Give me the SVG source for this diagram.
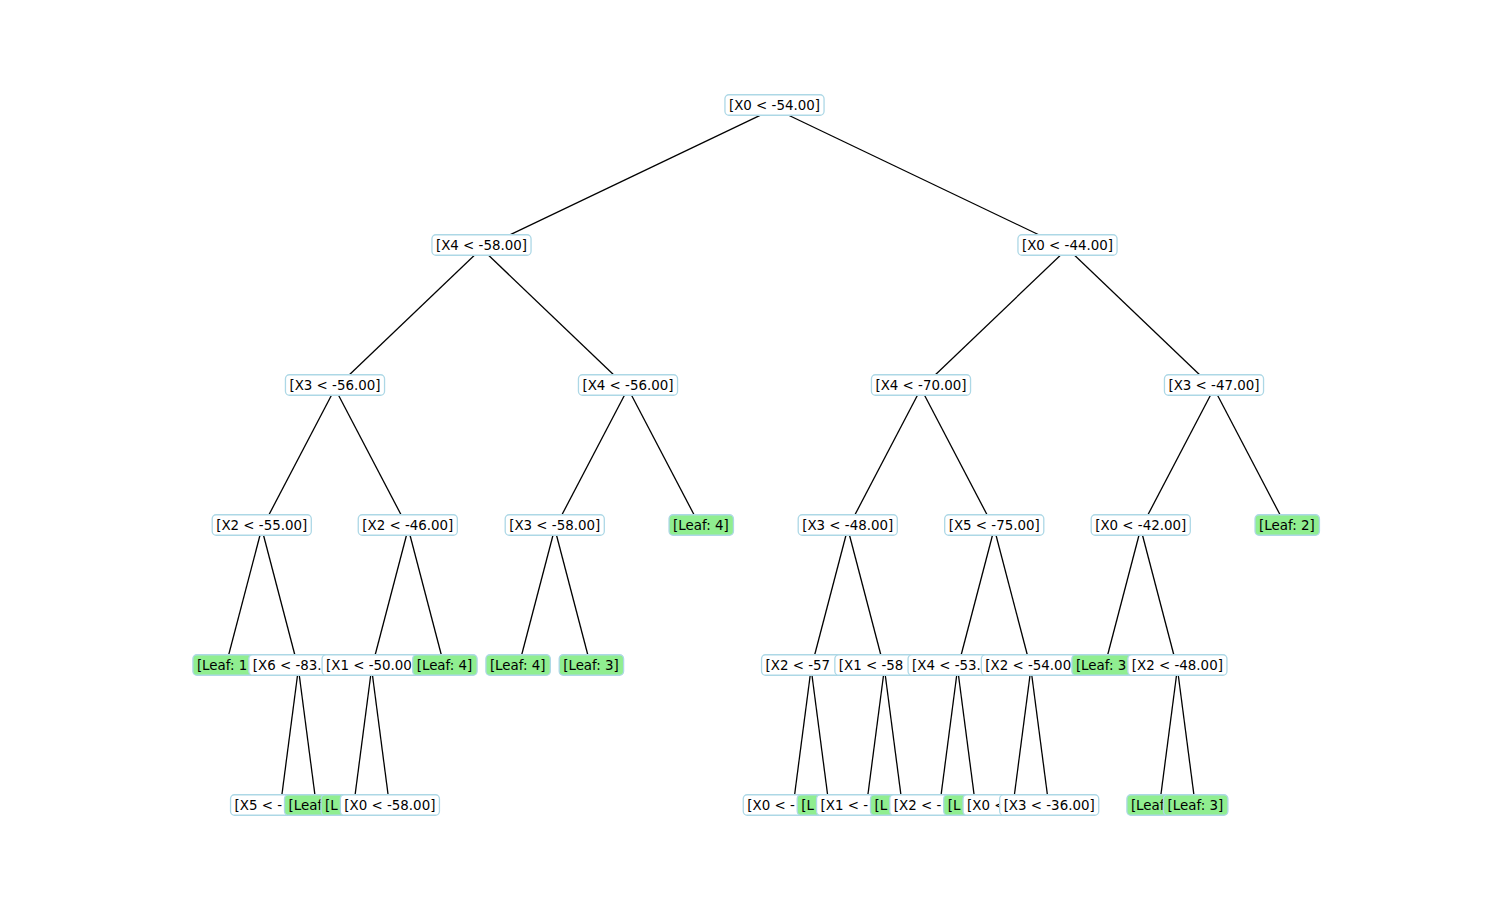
<svg xmlns="http://www.w3.org/2000/svg" width="1512" height="909" viewBox="0 0 1512 909">
<style>
  .edge { stroke: #000; stroke-width: 1.3; fill: none; }
  .box { stroke: #add8e6; stroke-width: 1.3; }
  .split .box { fill: #ffffff; }
  .leaf .box { fill: #90ee90; }
  text { font-family: "DejaVu Sans", "Liberation Sans", sans-serif; font-size: 13.4px; fill: #000; }
</style>
<rect width="1512" height="909" fill="#ffffff"/>

<!-- connectors: parent anchor to child anchor (anchors sit 3.5px below box centres) -->
<g id="edges">
  <line class="edge" x1="774.5" y1="108.5" x2="481.5" y2="248.5"/>
  <line class="edge" x1="774.5" y1="108.5" x2="1067.5" y2="248.5"/>
  <line class="edge" x1="481.5" y1="248.5" x2="335" y2="388.5"/>
  <line class="edge" x1="481.5" y1="248.5" x2="628" y2="388.5"/>
  <line class="edge" x1="1067.5" y1="248.5" x2="921" y2="388.5"/>
  <line class="edge" x1="1067.5" y1="248.5" x2="1214" y2="388.5"/>
  <line class="edge" x1="335" y1="388.5" x2="261.75" y2="528.5"/>
  <line class="edge" x1="335" y1="388.5" x2="408.25" y2="528.5"/>
  <line class="edge" x1="628" y1="388.5" x2="554.75" y2="528.5"/>
  <line class="edge" x1="628" y1="388.5" x2="701.25" y2="528.5"/>
  <line class="edge" x1="921" y1="388.5" x2="847.75" y2="528.5"/>
  <line class="edge" x1="921" y1="388.5" x2="994.25" y2="528.5"/>
  <line class="edge" x1="1214" y1="388.5" x2="1140.75" y2="528.5"/>
  <line class="edge" x1="1214" y1="388.5" x2="1287.25" y2="528.5"/>
  <line class="edge" x1="261.75" y1="528.5" x2="225.1" y2="668.5"/>
  <line class="edge" x1="261.75" y1="528.5" x2="298.4" y2="668.5"/>
  <line class="edge" x1="408.25" y1="528.5" x2="371.6" y2="668.5"/>
  <line class="edge" x1="408.25" y1="528.5" x2="444.9" y2="668.5"/>
  <line class="edge" x1="554.75" y1="528.5" x2="518.1" y2="668.5"/>
  <line class="edge" x1="554.75" y1="528.5" x2="591.4" y2="668.5"/>
  <line class="edge" x1="847.75" y1="528.5" x2="811.1" y2="668.5"/>
  <line class="edge" x1="847.75" y1="528.5" x2="884.4" y2="668.5"/>
  <line class="edge" x1="994.25" y1="528.5" x2="957.6" y2="668.5"/>
  <line class="edge" x1="994.25" y1="528.5" x2="1030.9" y2="668.5"/>
  <line class="edge" x1="1140.75" y1="528.5" x2="1104.1" y2="668.5"/>
  <line class="edge" x1="1140.75" y1="528.5" x2="1177.4" y2="668.5"/>
  <line class="edge" x1="298.4" y1="668.5" x2="280.1" y2="808.5"/>
  <line class="edge" x1="298.4" y1="668.5" x2="316.7" y2="808.5"/>
  <line class="edge" x1="371.6" y1="668.5" x2="353.3" y2="808.5"/>
  <line class="edge" x1="371.6" y1="668.5" x2="389.9" y2="808.5"/>
  <line class="edge" x1="811.1" y1="668.5" x2="792.8" y2="808.5"/>
  <line class="edge" x1="811.1" y1="668.5" x2="829.4" y2="808.5"/>
  <line class="edge" x1="884.4" y1="668.5" x2="866.1" y2="808.5"/>
  <line class="edge" x1="884.4" y1="668.5" x2="902.7" y2="808.5"/>
  <line class="edge" x1="957.6" y1="668.5" x2="939.3" y2="808.5"/>
  <line class="edge" x1="957.6" y1="668.5" x2="975.9" y2="808.5"/>
  <line class="edge" x1="1030.9" y1="668.5" x2="1012.6" y2="808.5"/>
  <line class="edge" x1="1030.9" y1="668.5" x2="1049.2" y2="808.5"/>
  <line class="edge" x1="1177.4" y1="668.5" x2="1159.1" y2="808.5"/>
  <line class="edge" x1="1177.4" y1="668.5" x2="1195.7" y2="808.5"/>
</g>

<!-- nodes, drawn in pre-order; split boxes are 99.1 wide, leaf boxes 64.4 wide -->
<g id="n0" class="split"><rect class="box" x="724.95" y="94.75" width="99.1" height="20.5" rx="4"/><text x="728.95" y="109.8">[X0 &lt; -54.00]</text></g>

<g id="n1" class="split"><rect class="box" x="431.95" y="234.75" width="99.1" height="20.5" rx="4"/><text x="435.95" y="249.8">[X4 &lt; -58.00]</text></g>
<g id="n2" class="split"><rect class="box" x="285.45" y="374.75" width="99.1" height="20.5" rx="4"/><text x="289.45" y="389.8">[X3 &lt; -56.00]</text></g>
<g id="n3" class="split"><rect class="box" x="212.2" y="514.75" width="99.1" height="20.5" rx="4"/><text x="216.2" y="529.8">[X2 &lt; -55.00]</text></g>
<g id="n4" class="leaf"><rect class="box" x="192.9" y="654.75" width="64.4" height="20.5" rx="4"/><text x="196.9" y="669.8">[Leaf: 1</text></g>
<g id="n5" class="split"><rect class="box" x="248.85" y="654.75" width="99.1" height="20.5" rx="4"/><text x="252.85" y="669.8">[X6 &lt; -83.</text></g>
<g id="n6" class="split"><rect class="box" x="230.55" y="794.75" width="99.1" height="20.5" rx="4"/><text x="234.55" y="809.8">[X5 &lt; -</text></g>
<g id="n7" class="leaf"><rect class="box" x="284.5" y="794.75" width="64.4" height="20.5" rx="4"/><text x="288.5" y="809.8">[Leaf</text></g>
<g id="n8" class="split"><rect class="box" x="358.25" y="514.75" width="99.1" height="20.5" rx="4"/><text x="362.25" y="529.8">[X2 &lt; -46.00]</text></g>
<g id="n9" class="split"><rect class="box" x="322.05" y="654.75" width="99.1" height="20.5" rx="4"/><text x="326.05" y="669.8">[X1 &lt; -50.00</text></g>
<g id="n10" class="leaf"><rect class="box" x="321.1" y="794.75" width="64.4" height="20.5" rx="4"/><text x="325.1" y="809.8">[L</text></g>
<g id="n11" class="split"><rect class="box" x="340.35" y="794.75" width="99.1" height="20.5" rx="4"/><text x="344.35" y="809.8">[X0 &lt; -58.00]</text></g>
<g id="n12" class="leaf"><rect class="box" x="412.7" y="654.75" width="64.4" height="20.5" rx="4"/><text x="416.7" y="669.8">[Leaf: 4]</text></g>
<g id="n13" class="split"><rect class="box" x="578.45" y="374.75" width="99.1" height="20.5" rx="4"/><text x="582.45" y="389.8">[X4 &lt; -56.00]</text></g>
<g id="n14" class="split"><rect class="box" x="505.2" y="514.75" width="99.1" height="20.5" rx="4"/><text x="509.2" y="529.8">[X3 &lt; -58.00]</text></g>
<g id="n15" class="leaf"><rect class="box" x="485.9" y="654.75" width="64.4" height="20.5" rx="4"/><text x="489.9" y="669.8">[Leaf: 4]</text></g>
<g id="n16" class="leaf"><rect class="box" x="559.2" y="654.75" width="64.4" height="20.5" rx="4"/><text x="563.2" y="669.8">[Leaf: 3]</text></g>
<g id="n17" class="leaf"><rect class="box" x="669.05" y="514.75" width="64.4" height="20.5" rx="4"/><text x="673.05" y="529.8">[Leaf: 4]</text></g>

<g id="n18" class="split"><rect class="box" x="1017.95" y="234.75" width="99.1" height="20.5" rx="4"/><text x="1021.95" y="249.8">[X0 &lt; -44.00]</text></g>
<g id="n19" class="split"><rect class="box" x="871.45" y="374.75" width="99.1" height="20.5" rx="4"/><text x="875.45" y="389.8">[X4 &lt; -70.00]</text></g>
<g id="n20" class="split"><rect class="box" x="798.2" y="514.75" width="99.1" height="20.5" rx="4"/><text x="802.2" y="529.8">[X3 &lt; -48.00]</text></g>
<g id="n21" class="split"><rect class="box" x="761.55" y="654.75" width="99.1" height="20.5" rx="4"/><text x="765.55" y="669.8">[X2 &lt; -57</text></g>
<g id="n22" class="split"><rect class="box" x="743.25" y="794.75" width="99.1" height="20.5" rx="4"/><text x="747.25" y="809.8">[X0 &lt; -</text></g>
<g id="n23" class="leaf"><rect class="box" x="797.2" y="794.75" width="64.4" height="20.5" rx="4"/><text x="801.2" y="809.8">[L</text></g>
<g id="n24" class="split"><rect class="box" x="834.85" y="654.75" width="99.1" height="20.5" rx="4"/><text x="838.85" y="669.8">[X1 &lt; -58</text></g>
<g id="n25" class="split"><rect class="box" x="816.55" y="794.75" width="99.1" height="20.5" rx="4"/><text x="820.55" y="809.8">[X1 &lt; -</text></g>
<g id="n26" class="leaf"><rect class="box" x="870.5" y="794.75" width="64.4" height="20.5" rx="4"/><text x="874.5" y="809.8">[L</text></g>
<g id="n27" class="split"><rect class="box" x="944.7" y="514.75" width="99.1" height="20.5" rx="4"/><text x="948.7" y="529.8">[X5 &lt; -75.00]</text></g>
<g id="n28" class="split"><rect class="box" x="908.05" y="654.75" width="99.1" height="20.5" rx="4"/><text x="912.05" y="669.8">[X4 &lt; -53.</text></g>
<g id="n29" class="split"><rect class="box" x="889.75" y="794.75" width="99.1" height="20.5" rx="4"/><text x="893.75" y="809.8">[X2 &lt; -</text></g>
<g id="n30" class="leaf"><rect class="box" x="943.7" y="794.75" width="64.4" height="20.5" rx="4"/><text x="947.7" y="809.8">[L</text></g>
<g id="n31" class="split"><rect class="box" x="981.35" y="654.75" width="99.1" height="20.5" rx="4"/><text x="985.35" y="669.8">[X2 &lt; -54.00</text></g>
<g id="n32" class="split"><rect class="box" x="963.05" y="794.75" width="99.1" height="20.5" rx="4"/><text x="967.05" y="809.8">[X0 &lt;</text></g>
<g id="n33" class="split"><rect class="box" x="999.65" y="794.75" width="99.1" height="20.5" rx="4"/><text x="1003.65" y="809.8">[X3 &lt; -36.00]</text></g>
<g id="n34" class="split"><rect class="box" x="1164.45" y="374.75" width="99.1" height="20.5" rx="4"/><text x="1168.45" y="389.8">[X3 &lt; -47.00]</text></g>
<g id="n35" class="split"><rect class="box" x="1091.2" y="514.75" width="99.1" height="20.5" rx="4"/><text x="1095.2" y="529.8">[X0 &lt; -42.00]</text></g>
<g id="n36" class="leaf"><rect class="box" x="1071.9" y="654.75" width="64.4" height="20.5" rx="4"/><text x="1075.9" y="669.8">[Leaf: 3</text></g>
<g id="n37" class="split"><rect class="box" x="1127.85" y="654.75" width="99.1" height="20.5" rx="4"/><text x="1131.85" y="669.8">[X2 &lt; -48.00]</text></g>
<g id="n38" class="leaf"><rect class="box" x="1126.9" y="794.75" width="64.4" height="20.5" rx="4"/><text x="1130.9" y="809.8">[Leaf</text></g>
<g id="n39" class="leaf"><rect class="box" x="1163.5" y="794.75" width="64.4" height="20.5" rx="4"/><text x="1167.5" y="809.8">[Leaf: 3]</text></g>
<g id="n40" class="leaf"><rect class="box" x="1255.05" y="514.75" width="64.4" height="20.5" rx="4"/><text x="1259.05" y="529.8">[Leaf: 2]</text></g>
</svg>
